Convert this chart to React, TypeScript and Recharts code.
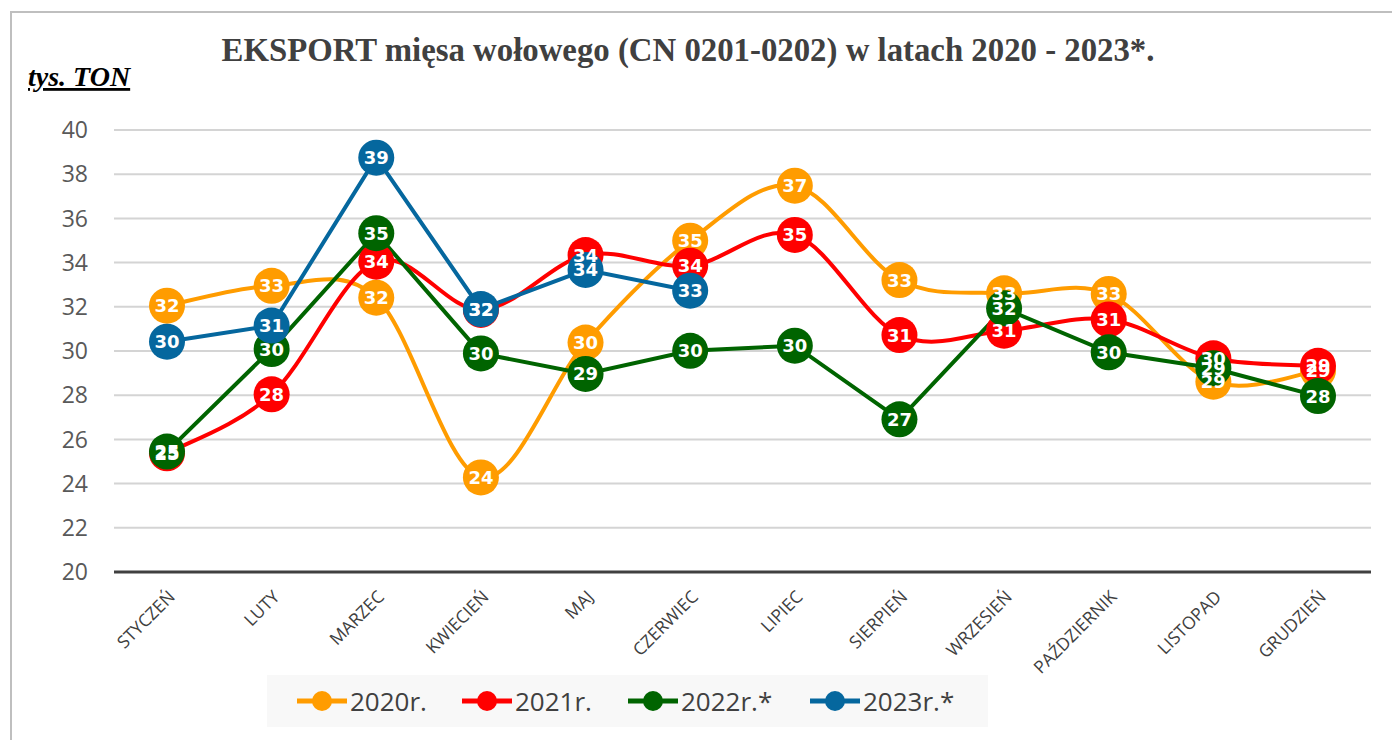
import { LineChart, Line, XAxis, YAxis, CartesianGrid } from "recharts"

const months = [
  "STYCZEŃ", "LUTY", "MARZEC", "KWIECIEŃ", "MAJ", "CZERWIEC",
  "LIPIEC", "SIERPIEŃ", "WRZESIEŃ", "PAŹDZIERNIK", "LISTOPAD", "GRUDZIEŃ",
]

// tys. ton
const y2020 = [32.05, 32.95, 32.41, 24.28, 30.38, 34.99, 37.48, 33.21, 32.61, 32.58, 28.61, 29.11]
const y2021 = [25.37, 28.04, 34.04, 31.86, 34.34, 33.86, 35.25, 30.72, 30.92, 31.43, 29.67, 29.33]
const y2022 = [25.45, 30.09, 35.33, 29.89, 28.96, 30.01, 30.24, 26.91, 31.93, 29.94, 29.22, 27.96]
const y2023 = [30.42, 31.15, 38.75, 31.9, 33.67, 32.73, null, null, null, null, null, null]

const yTicks = [20, 22, 24, 26, 28, 30, 32, 34, 36, 38, 40]

const series = [
  { key: "y2020", name: "2020r.", color: "#FF9C00", smooth: true },
  { key: "y2021", name: "2021r.", color: "#FF0000", smooth: true },
  { key: "y2022", name: "2022r.*", color: "#006400", smooth: false },
  { key: "y2023", name: "2023r.*", color: "#05679E", smooth: false },
]

const data = months.map((m, i) => ({
  month: m,
  y2020: y2020[i],
  y2021: y2021[i],
  y2022: y2022[i],
  y2023: y2023[i],
}))

// Excel-like smoothing (Catmull-Rom through the points)
function excelCurve(context: any) {
  let pts: number[][] = []
  return {
    areaStart() {},
    areaEnd() {},
    lineStart() {
      pts = []
    },
    point(x: number, y: number) {
      pts.push([+x, +y])
    },
    lineEnd() {
      if (!pts.length) return
      context.moveTo(pts[0][0], pts[0][1])
      for (let i = 0; i < pts.length - 1; i++) {
        const p0 = pts[i - 1] || pts[i]
        const p1 = pts[i]
        const p2 = pts[i + 1]
        const p3 = pts[i + 2] || p2
        context.bezierCurveTo(
          p1[0] + (p2[0] - p0[0]) / 6,
          p1[1] + (p2[1] - p0[1]) / 6,
          p2[0] - (p3[0] - p1[0]) / 6,
          p2[1] - (p3[1] - p1[1]) / 6,
          p2[0],
          p2[1]
        )
      }
    },
  }
}

const makeMarker = (color: string) => (props: any) => {
  const { cx, cy, value, index } = props
  if (value == null || cy == null) return <g key={`m-${index}`} />
  return <circle key={`m-${index}`} cx={cx} cy={cy} r={18} fill={color} />
}

const valueLabel = (props: any) => {
  const { cx, cy, value, index } = props
  if (value == null || cy == null) return <g key={`l-${index}`} />
  return (
    <text
      key={`l-${index}`}
      x={cx}
      y={cy}
      dy={6.5}
      textAnchor="middle"
      fill="#FFFFFF"
      fontFamily="DejaVu Sans"
      fontWeight="bold"
      fontSize={18}
    >
      {Math.round(value)}
    </text>
  )
}

const MonthTick = (props: any) => {
  const { x, y, payload } = props
  return (
    <g transform={`translate(${x + 9},${y + 18})`}>
      <text textAnchor="end" transform="rotate(-45)" fill="#404040" fontSize={17.5} fontFamily="Open Sans">
        {payload.value}
      </text>
    </g>
  )
}

export default function App() {
  return (
    <div style={{ position: "fixed", left: 0, top: 0, width: 1392, height: 740, overflow: "hidden", background: "#fff" }}>
      <div
        style={{
          position: "absolute",
          left: 10,
          top: 11,
          width: 1420,
          height: 800,
          borderTop: "2px solid #BFBFBF",
          borderLeft: "2px solid #BFBFBF",
        }}
      />
      <svg width={1392} height={110} style={{ position: "absolute", left: 0, top: 0 }}>
        <text
          x={688}
          y={61}
          textAnchor="middle"
          fontFamily="Liberation Serif"
          fontWeight="bold"
          fontSize={32.8}
          fill="#404040"
        >
          EKSPORT mięsa wołowego (CN 0201-0202) w latach 2020 - 2023*.
        </text>
        <text
          x={28}
          y={86}
          fontFamily="Liberation Serif"
          fontWeight="bold"
          fontStyle="italic"
          fontSize={28}
          fill="#000"
          style={{ textDecoration: "underline" }}
        >
          tys. TON
        </text>
      </svg>
      <div style={{ position: "absolute", left: 0, top: 0 }}>
        <LineChart width={1392} height={740} data={data} margin={{ top: 130, right: 21, bottom: 68, left: 0 }}>
          <CartesianGrid horizontal vertical={false} stroke="#D4D4D4" strokeWidth={2} />
          <XAxis
            dataKey="month"
            height={100}
            padding={{ left: 53, right: 53 }}
            axisLine={{ stroke: "#404040", strokeWidth: 3 }}
            tickLine={false}
            tick={<MonthTick />}
            interval={0}
          />
          <YAxis
            width={114}
            domain={[20, 40]}
            ticks={yTicks}
            axisLine={false}
            tickLine={false}
            tickMargin={20}
            tick={{ fill: "#595959", fontSize: 23, fontFamily: "Open Sans" }}
          />
          {series.map((s) => (
            <Line
              key={s.key}
              dataKey={s.key}
              name={s.name}
              type={s.smooth ? excelCurve : "linear"}
              stroke={s.color}
              strokeWidth={4}
              dot={makeMarker(s.color)}
              activeDot={false}
              isAnimationActive={false}
            />
          ))}
          {series.map((s) => (
            <Line
              key={`${s.key}-lbl`}
              dataKey={s.key}
              stroke="none"
              legendType="none"
              dot={valueLabel}
              activeDot={false}
              isAnimationActive={false}
            />
          ))}
        </LineChart>
      </div>
      <div
        style={{
          position: "absolute",
          left: 267,
          top: 675,
          width: 721,
          height: 52,
          background: "#F8F8F8",
          display: "flex",
          alignItems: "center",
          fontFamily: "Open Sans",
          fontSize: 26,
          color: "#404040",
        }}
      >
        {series.map((s, i) => (
          <div key={s.key} style={{ display: "flex", alignItems: "center", position: "absolute", left: [30, 195, 361, 543][i] }}>
            <svg width={50} height={22}>
              <line x1={0} y1={11} x2={50} y2={11} stroke={s.color} strokeWidth={5} />
              <circle cx={25} cy={11} r={10} fill={s.color} />
            </svg>
            <span style={{ marginLeft: 3 }}>{s.name}</span>
          </div>
        ))}
      </div>
    </div>
  )
}
